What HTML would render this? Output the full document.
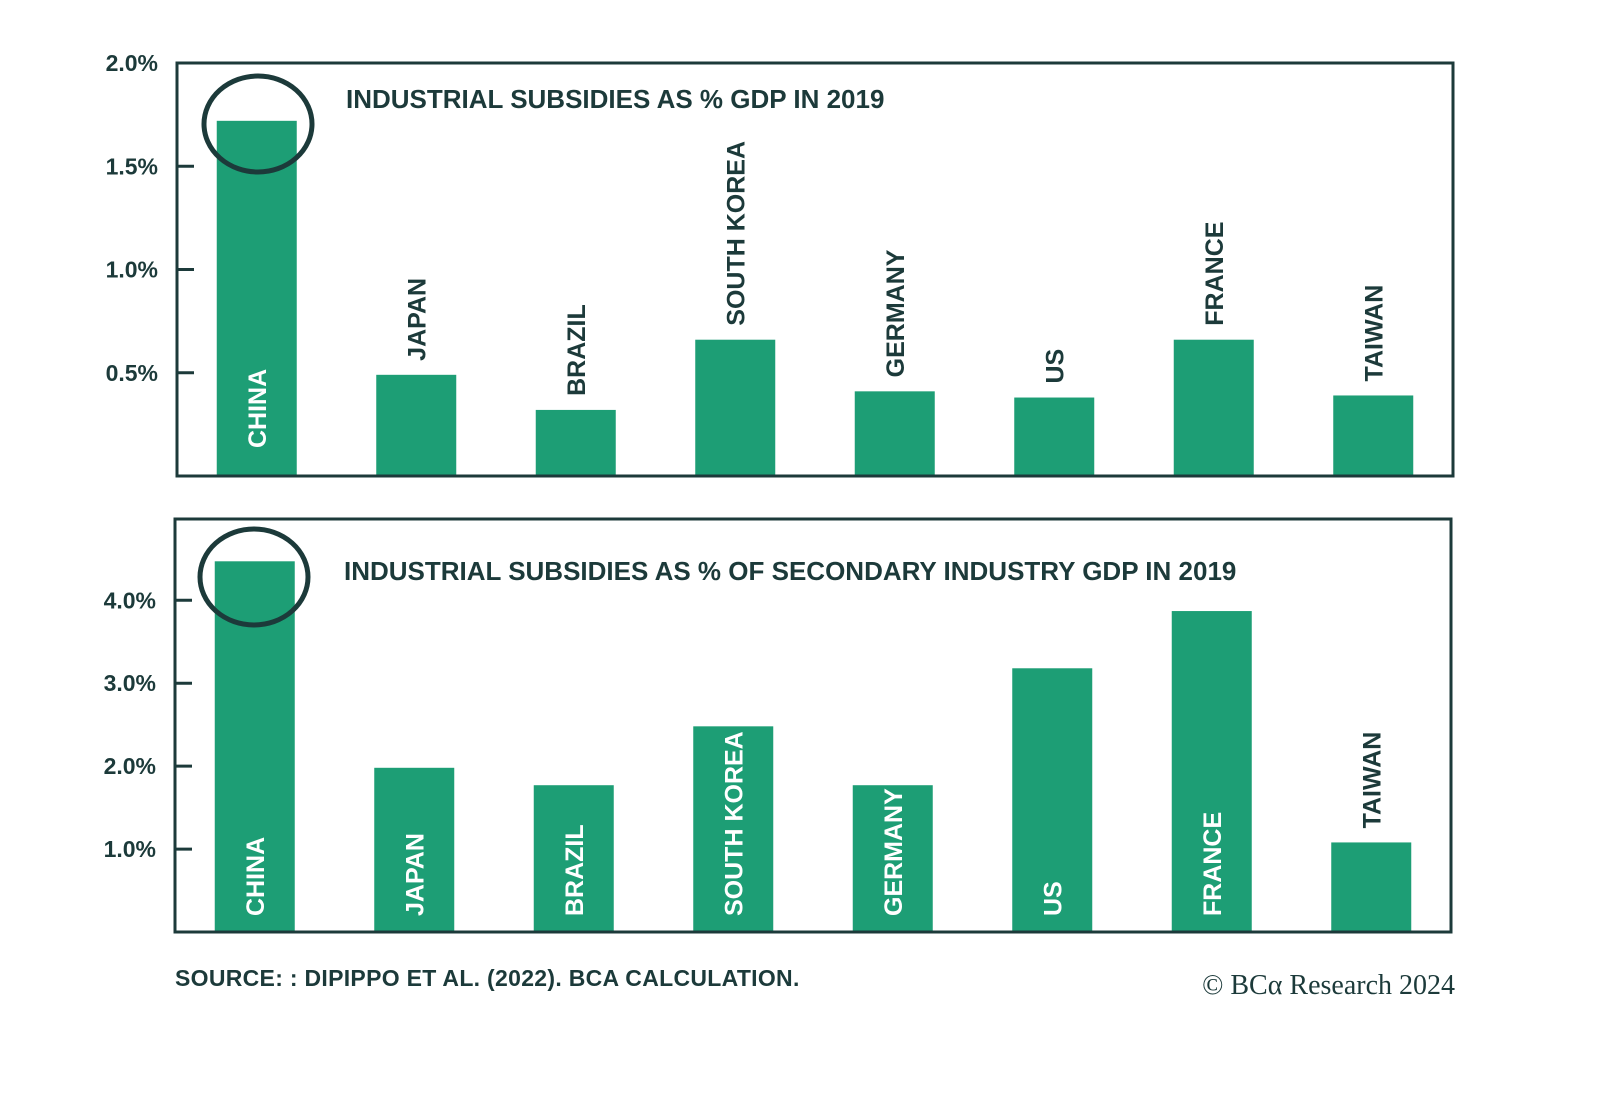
<!DOCTYPE html>
<html><head><meta charset="utf-8"><style>
html,body{margin:0;padding:0;background:#fff;}
svg{display:block;}
text{font-family:"Liberation Sans",sans-serif;}
</style></head><body>
<svg id="chart" width="1600" height="1116" viewBox="0 0 1600 1116"></svg>
<script>
const categories = ["CHINA","JAPAN","BRAZIL","SOUTH KOREA","GERMANY","US","FRANCE","TAIWAN"];
const gdpValues = [1.72,0.49,0.32,0.66,0.41,0.38,0.66,0.39];
const secondaryValues = [4.47,1.98,1.77,2.48,1.77,3.18,3.87,1.08];
const topTicks = [0.5,1.0,1.5,2.0];
const topTickLabels = ["0.5%","1.0%","1.5%","2.0%"];
const bottomTicks = [1,2,3,4];
const bottomTickLabels = ["1.0%","2.0%","3.0%","4.0%"];

const NS="http://www.w3.org/2000/svg";
const svg=document.getElementById('chart');
const DARK="#1c3a3a", GREEN="#1d9e75";
function mk(tag,attrs,parent){const e=document.createElementNS(NS,tag);for(const k in attrs)e.setAttribute(k,attrs[k]);(parent||svg).appendChild(e);return e;}

function drawPanel(cfg){
  const g=mk('g',{});
  
  
  const y=v=>cfg.y0-(v/cfg.max)*(cfg.y0-cfg.top);
  const slot=(cfg.right-cfg.left)/cfg.cats.length;
  const bw=80;
  cfg.vals.forEach((v,i)=>{
    const cx=cfg.left+slot*(i+0.5);
    const r=mk('rect',{x:cx-bw/2,y:y(v),width:bw,height:cfg.y0-y(v),fill:GREEN},g);
    
    
    const inside=v>cfg.insideThreshold;
    let ty, col;
    if(inside){ty=cfg.y0-cfg.insidePad;col='#fff';}
    else{ty=y(v)-14;col=DARK;}
    const t=mk('text',{x:0,y:0,transform:`translate(${cx+9},${ty}) rotate(-90)`,'text-anchor':'start','font-size':25,'font-weight':'bold',fill:col},g);
    t.textContent=cfg.cats[i];
    
    
  });
  cfg.ticks.forEach((v,i)=>{
    const ty=y(v);
    const l=mk('line',{x1:cfg.left,x2:cfg.left+17,y1:ty,y2:ty,stroke:DARK,'stroke-width':3},g);
    
    
    const t=mk('text',{x:cfg.left-19,y:ty+8,'text-anchor':'end','font-size':23,'font-weight':'bold',fill:DARK},g);
    t.textContent=cfg.tickLabels[i];
    
    
  });
  const f=mk('rect',{x:cfg.left,y:cfg.top,width:cfg.right-cfg.left,height:cfg.y0-cfg.top,fill:'none',stroke:DARK,'stroke-width':3},g);
  
  
  const tt=mk('text',{x:cfg.titleX,y:cfg.titleY,'font-size':26,'font-weight':'bold',fill:DARK},g);
  tt.textContent=cfg.title;
  
  
  const c=mk('ellipse',{cx:cfg.circ[0],cy:cfg.circ[1],rx:54,ry:48,fill:'none',stroke:DARK,'stroke-width':5},g);
  
  
}
drawPanel({name:'top-panel',cats:categories,vals:gdpValues,max:2.0,left:177,right:1453,top:63,y0:476,ticks:topTicks,tickLabels:topTickLabels,insideThreshold:1.0,insidePad:28,title:'INDUSTRIAL SUBSIDIES AS % GDP IN 2019',titleX:346,titleY:108,circ:[258,124]});
drawPanel({name:'bottom-panel',cats:categories,vals:secondaryValues,max:4.98,left:175,right:1451,top:519,y0:932,ticks:bottomTicks,tickLabels:bottomTickLabels,insideThreshold:1.5,insidePad:16,title:'INDUSTRIAL SUBSIDIES AS % OF SECONDARY INDUSTRY GDP IN 2019',titleX:344,titleY:580,circ:[254,577]});

const s=mk('text',{x:175,y:986,'font-size':23,'font-weight':'bold',fill:DARK,'letter-spacing':'0.3'});
s.textContent='SOURCE: : DIPIPPO ET AL. (2022). BCA CALCULATION.';


const cp=mk('text',{x:1455,y:994,'text-anchor':'end','font-size':28,fill:DARK,style:'font-family:"Liberation Serif",serif'});
cp.textContent='© BCα Research 2024';


</script>
</body></html>
